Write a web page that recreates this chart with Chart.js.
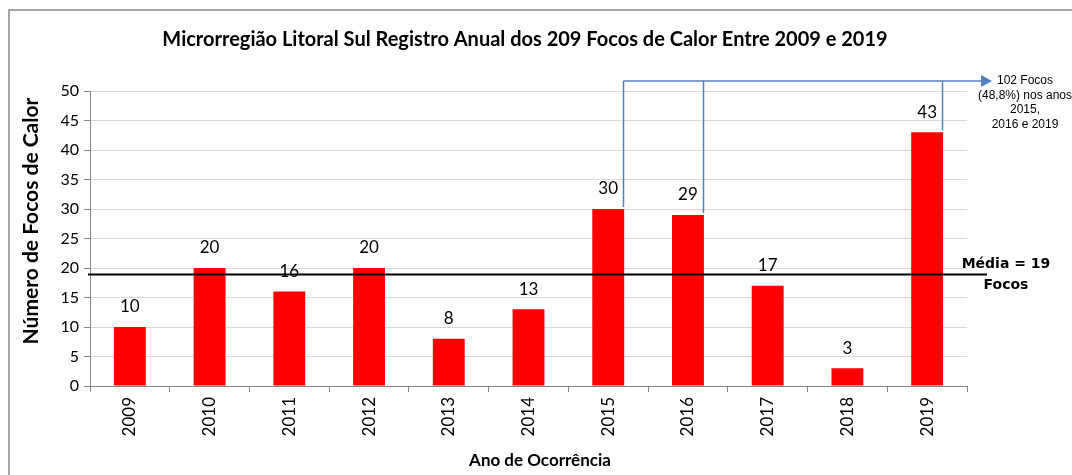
<!DOCTYPE html>
<html><head><meta charset="utf-8">
<script src="https://cdn.jsdelivr.net/npm/chart.js@4.4.1/dist/chart.umd.min.js"></script>
<style>html,body{margin:0;padding:0;background:#fff;overflow:hidden}#wrap{width:1072px;height:475px;position:relative}</style>
</head><body><div id="wrap"><canvas id="c" width="1072" height="475"></canvas></div>
<script>
const categories = ['2009','2010','2011','2012','2013','2014','2015','2016','2017','2018','2019'];
const focos = [10, 20, 16, 20, 8, 13, 30, 29, 17, 3, 43];
const yMin = 0, yMax = 50, yStep = 5;
const meanValue = 19;
const meanLabel = ['Média = 19', 'Focos'];
const highlightYears = ['2015', '2016', '2019'];
const calloutLines = ['102 Focos', '(48,8%) nos anos', '2015,', '2016 e 2019'];
const titleText = 'Microrregião Litoral Sul Registro Anual dos 209 Focos de Calor Entre 2009 e 2019';
const xTitle = 'Ano de Ocorrência';
const yTitle = 'Número de Focos de Calor';

const overlay = {
  id: 'overlay',
  beforeDraw(chart) {
    const ctx = chart.ctx;
    ctx.save();
    ctx.fillStyle = '#fff';
    ctx.fillRect(0, 0, chart.width, chart.height);
    ctx.strokeStyle = '#a6a6a6';
    ctx.lineWidth = 2;
    ctx.beginPath();
    ctx.moveTo(9, chart.height); ctx.lineTo(9, 10); ctx.lineTo(chart.width, 10);
    ctx.stroke();
    ctx.fillStyle = '#000';
    ctx.font = 'bold 20px Lato';
    ctx.textAlign = 'center'; ctx.textBaseline = 'middle';
    ctx.fillText(titleText, 525, 40);
    // axis titles
    ctx.font = 'bold 17px Lato';
    ctx.fillText(xTitle, 540, 461);
    ctx.save();
    ctx.translate(31, 221);
    ctx.rotate(-Math.PI / 2);
    ctx.font = 'bold 21px Lato';
    ctx.fillText(yTitle, 0, 0);
    ctx.restore();
    ctx.restore();
  },
  afterDatasetsDraw(chart) {
    const ctx = chart.ctx;
    const meta = chart.getDatasetMeta(0);
    const ys = chart.scales.y, area = chart.chartArea;
    ctx.save();
    // data labels
    ctx.fillStyle = '#000';
    ctx.font = '17px Lato';
    ctx.textAlign = 'center'; ctx.textBaseline = 'middle';
    meta.data.forEach((bar, i) => {
      ctx.fillText(String(focos[i]), bar.x, bar.y - 20);
    });
    // mean line
    const my = Math.round(ys.getPixelForValue(meanValue)) + 0.5;
    ctx.strokeStyle = '#000'; ctx.lineWidth = 2;
    ctx.beginPath(); ctx.moveTo(area.left - 2, my); ctx.lineTo(area.right + 20, my); ctx.stroke();
    ctx.font = 'bold 14px "DejaVu Sans"';
    ctx.fillText(meanLabel[0], area.right + 39, my - 10);
    ctx.fillText(meanLabel[1], area.right + 39, my + 11);
    // callout
    const topY = area.top - 10;
    ctx.strokeStyle = '#4f81bd'; ctx.lineWidth = 1.5;
    highlightYears.forEach(yr => {
      const bar = meta.data[categories.indexOf(yr)];
      const x = Math.round(bar.x + bar.width / 2) - 0.5;
      ctx.beginPath(); ctx.moveTo(x, bar.y - 2); ctx.lineTo(x, topY); ctx.stroke();
    });
    const firstBar = meta.data[categories.indexOf(highlightYears[0])];
    const x0 = Math.round(firstBar.x + firstBar.width / 2) - 0.5;
    const tipX = area.right + 25;
    ctx.beginPath(); ctx.moveTo(x0, topY); ctx.lineTo(tipX - 10, topY); ctx.stroke();
    ctx.fillStyle = '#4f81bd';
    ctx.beginPath(); ctx.moveTo(tipX, topY); ctx.lineTo(tipX - 11, topY - 6); ctx.lineTo(tipX - 11, topY + 6); ctx.closePath(); ctx.fill();
    ctx.fillStyle = '#000';
    ctx.font = '12px "Liberation Sans"';
    calloutLines.forEach((t, k) => ctx.fillText(t, area.right + 58, topY + k * 14.5));
    ctx.restore();
  }
};

new Chart(document.getElementById('c'), {
  type: 'bar',
  data: {
    labels: categories,
    datasets: [{
      data: focos,
      backgroundColor: '#ff0000',
      borderWidth: 0,
      categoryPercentage: 1.0,
      barPercentage: 0.4
    }]
  },
  options: {
    responsive: false,
    animation: false,
    layout: { padding: { top: 91, right: 105, bottom: 0, left: 0 } },
    plugins: { legend: { display: false }, title: { display: false }, tooltip: { enabled: false } },
    scales: {
      x: {
        grid: { offset: true, drawOnChartArea: false, drawTicks: true, tickLength: 6, tickColor: '#868686', color: '#868686' },
        border: { color: '#868686', width: 1 },
        ticks: { minRotation: 90, maxRotation: 90, font: { family: 'Lato', size: 17 }, color: '#000', padding: 5 },
        title: { display: false },
        afterFit(s) { s.height = 89; }
      },
      y: {
        min: yMin, max: yMax,
        ticks: { stepSize: yStep, font: { family: 'Lato', size: 16 }, color: '#000', padding: 5 },
        grid: { color: '#d9d9d9', tickColor: '#868686', tickLength: 6 },
        border: { color: '#868686', width: 1 },
        title: { display: false },
        afterFit(s) { s.width = 90; }
      }
    }
  },
  plugins: [overlay]
});
</script></body></html>
